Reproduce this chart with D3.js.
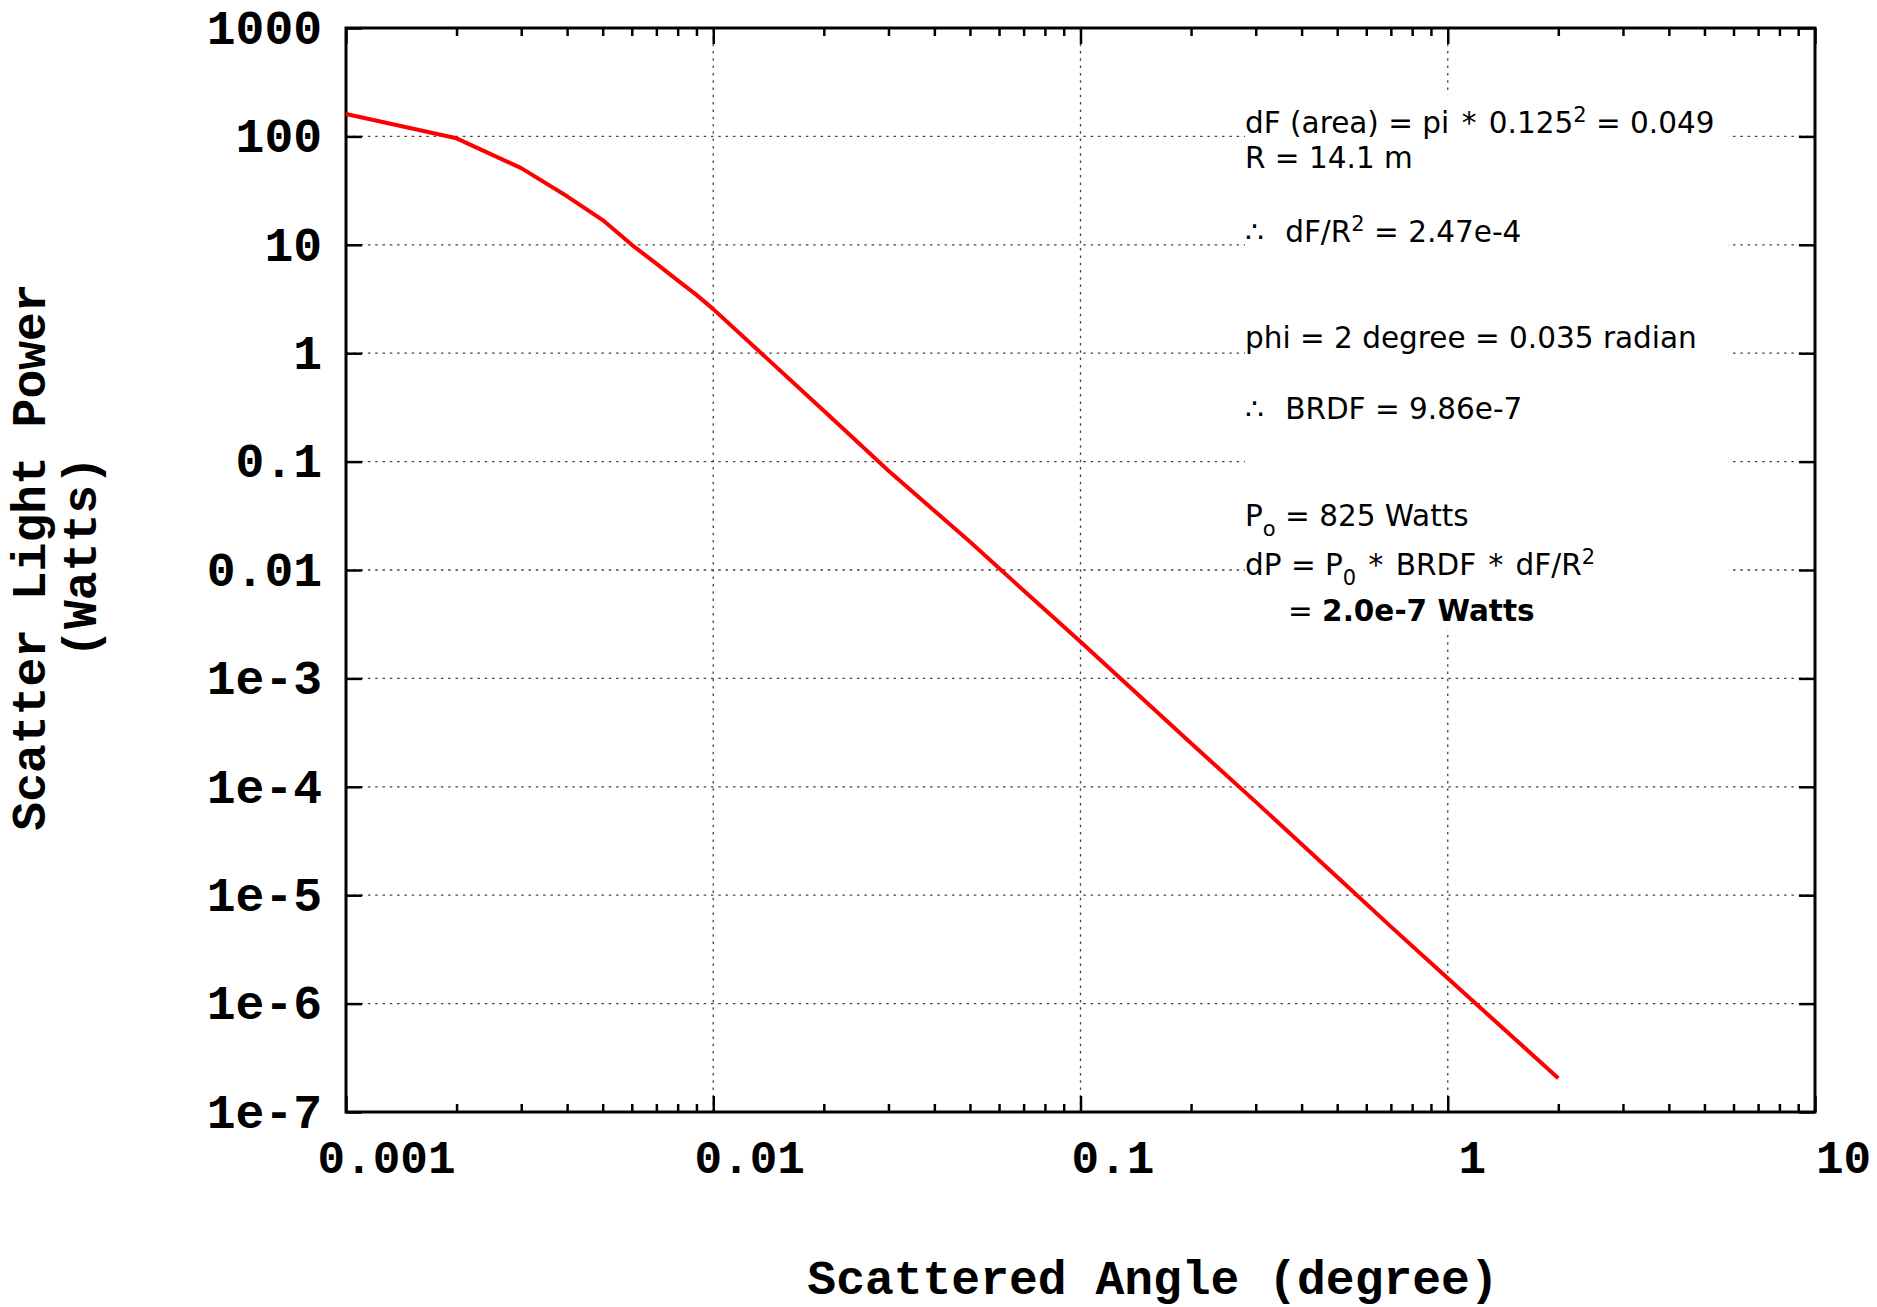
<!DOCTYPE html>
<html>
<head>
<meta charset="utf-8">
<script src="https://cdn.jsdelivr.net/npm/d3@7"></script>
<style>
  body { margin: 0; background: #fff; }
  .tick text { font-family: "Liberation Mono", monospace; font-weight: bold; font-size: 46px; fill: #000; }
  .note { font-family: "DejaVu Sans", Verdana, sans-serif; font-size: 29.5px; fill: #000; }
</style>
</head>
<body>
<svg id="chart" width="1877" height="1307"></svg>
<script>
// scattered angle (degree) and scattered power (W)
var angle = [0.001, 0.002, 0.003, 0.004, 0.005, 0.006, 0.007, 0.008, 0.009, 0.01,
  0.02, 0.03, 0.05, 0.07, 0.1, 0.2, 0.3, 0.5, 0.7, 1, 1.5, 2];
var power = [161, 96, 51, 28, 16.9, 10, 6.7, 4.7, 3.45, 2.55,
  0.295, 0.0824, 0.0182, 0.00647, 0.00218, 2.52e-4, 7.26e-5, 1.47e-5, 5.13e-6, 1.71e-6, 4.95e-7, 2.05e-7];

var xTicks = [0.001, 0.01, 0.1, 1, 10];
var xTickLabels = ['0.001', '0.01', '0.1', '1', '10'];
var yTicks = [1000, 100, 10, 1, 0.1, 0.01, 1e-3, 1e-4, 1e-5, 1e-6, 1e-7];
var yTickLabels = ['1000', '100', '10', '1', '0.1', '0.01', '1e-3', '1e-4', '1e-5', '1e-6', '1e-7'];

var xTitle = 'Scattered Angle (degree)';
var yTitle = ['Scatter Light Power', '(Watts)'];

// annotation lines: [text, kind] pieces
var notes = [
  [['dF (area) = pi '], ['*', 'ast'], [' 0.125'], ['2', 'sup'], [' = 0.049']],
  [['R = 14.1 m']],
  [['\u2234'], [' dF/R', 'gap'], ['2', 'sup'], [' = 2.47e-4']],
  [['phi = 2 degree = 0.035 radian']],
  [['\u2234'], [' BRDF = 9.86e-7', 'gap']],
  [['P'], ['o', 'sub'], [' = 825 Watts']],
  [['dP = P'], ['0', 'sub'], [' '], ['*', 'ast'], [' BRDF '], ['*', 'ast'], [' dF/R'], ['2', 'sup']],
  [['= '], ['2.0e-7 Watts', 'bold']]
];

(function () {
  var margin = { top: 28, right: 62, bottom: 195, left: 346 };
  var width = 1877, height = 1307;
  var svg = d3.select('#chart');

  var x = d3.scaleLog().domain([0.001, 10]).range([margin.left, width - margin.right]);
  var y = d3.scaleLog().domain([1e-7, 1000]).range([height - margin.bottom, margin.top]);
  var x0 = x.range()[0], x1 = x.range()[1], y0 = y.range()[0], y1 = y.range()[1];

  var minorX = [];
  xTicks.slice(0, -1).forEach(function (d) {
    for (var k = 2; k < 10; k++) minorX.push(d * k);
  });

  svg.append('rect').attr('width', width).attr('height', height).attr('fill', '#fff');

  // grid
  var grid = svg.append('g').attr('stroke', '#444').attr('stroke-width', 1.3)
      .attr('stroke-dasharray', '2.5,4.8');
  grid.selectAll('line.h').data(yTicks.slice(1, -1)).enter().append('line')
      .attr('x1', x0).attr('x2', x1)
      .attr('y1', function (d) { return y(d); }).attr('y2', function (d) { return y(d); });
  grid.selectAll('line.v').data(xTicks.slice(1, -1)).enter().append('line')
      .attr('y1', y0).attr('y2', y1)
      .attr('x1', function (d) { return x(d); }).attr('x2', function (d) { return x(d); });

  // white box behind the notes
  svg.append('rect').attr('x', 1245).attr('y', 95).attr('width', 483).attr('height', 535)
      .attr('fill', '#fff');

  // axes
  var fmtX = function (d, i) { return xTickLabels[i]; };
  var fmtY = function (d, i) { return yTickLabels[i]; };

  var bottom = svg.append('g').attr('transform', 'translate(0,' + y0 + ')')
      .call(d3.axisBottom(x).tickValues(xTicks).tickFormat(fmtX).tickSize(-16).tickPadding(28));
  bottom.selectAll('text').attr('dx', function (d, i) { return 20 + 4 * xTickLabels[i].length; });
  svg.append('g').attr('transform', 'translate(0,' + y0 + ')')
      .call(d3.axisBottom(x).tickValues(minorX).tickFormat('').tickSize(-8));
  svg.append('g').attr('transform', 'translate(0,' + y1 + ')')
      .call(d3.axisTop(x).tickValues(xTicks).tickFormat('').tickSize(-16));
  svg.append('g').attr('transform', 'translate(0,' + y1 + ')')
      .call(d3.axisTop(x).tickValues(minorX).tickFormat('').tickSize(-8));
  var left = svg.append('g').attr('transform', 'translate(' + x0 + ',0)')
      .call(d3.axisLeft(y).tickValues(yTicks).tickFormat(fmtY).tickSize(-16).tickPadding(24));
  left.selectAll('text').style('font-size', '48px');
  svg.append('g').attr('transform', 'translate(' + x1 + ',0)')
      .call(d3.axisRight(y).tickValues(yTicks).tickFormat('').tickSize(-16));

  svg.selectAll('.domain').remove();
  svg.selectAll('.tick line').attr('stroke', '#000').attr('stroke-width', 2.5);

  // frame
  svg.append('rect').attr('x', x0).attr('y', y1).attr('width', x1 - x0).attr('height', y0 - y1)
      .attr('fill', 'none').attr('stroke', '#000').attr('stroke-width', 3);

  // curve
  var line = d3.line()
      .x(function (d, i) { return x(angle[i]); })
      .y(function (d) { return y(d); });
  svg.append('path').datum(power).attr('d', line)
      .attr('fill', 'none').attr('stroke', '#ff0000').attr('stroke-width', 4)
      .attr('stroke-linejoin', 'round');

  // titles
  svg.append('text').attr('x', 1153).attr('y', 1294).attr('text-anchor', 'middle')
      .style('font-family', '"Liberation Mono", monospace').style('font-weight', 'bold')
      .style('font-size', '48px').text(xTitle);
  var yt = svg.append('text').attr('transform', 'translate(45,557) rotate(-90)')
      .attr('text-anchor', 'middle')
      .style('font-family', '"Liberation Mono", monospace').style('font-weight', 'bold')
      .style('font-size', '48px');
  yTitle.forEach(function (t, i) {
    yt.append('tspan').attr('x', 0).attr('y', i * 51).text(t);
  });

  // notes
  var noteY = [133, 168, 242, 348, 419, 526, 575, 621];
  var noteX = [1245, 1245, 1245, 1245, 1245, 1245, 1245, 1288];
  notes.forEach(function (parts, i) {
    var t = svg.append('text').attr('class', 'note').attr('x', noteX[i]).attr('y', noteY[i]);
    var shift = 0, extra = 0;
    parts.forEach(function (p) {
      var s = t.append('tspan').text(p[0]);
      var want = p[1] === 'sup' ? -11 : (p[1] === 'sub' ? 10 : 0);
      s.attr('dy', want - shift);
      shift = want;
      var dx = extra;
      extra = 0;
      if (p[1] === 'sup' || p[1] === 'sub') s.style('font-size', '21px');
      if (p[1] === 'bold') s.style('font-weight', 'bold');
      if (p[1] === 'ast') { dx += 3; extra = 3; }
      if (p[1] === 'gap') dx += 12;
      if (dx) s.attr('dx', dx);
    });
  });
})();
</script>
</body>
</html>
